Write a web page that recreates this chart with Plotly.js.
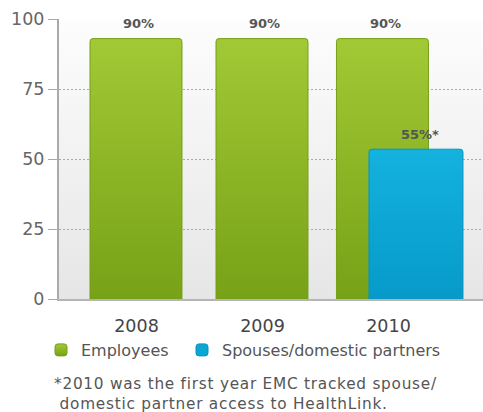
<!DOCTYPE html>
<html>
<head>
<meta charset="utf-8">
<script src="https://cdn.plot.ly/plotly-3.0.1.min.js"></script>
<style>
html,body{margin:0;padding:0;background:#fff;}
#chart{width:483px;height:412px;}
#chart .annotation[data-index="4"] text{letter-spacing:0.75px;}
</style>
</head>
<body>
<div id="chart"></div>
<script>
// ---- data ----
const years = ['2008', '2009', '2010'];
const employees = [93, 93, 93];
const employeeLabels = ['90%', '90%', '90%'];
const spouseYears = ['2010'];
const spouses = [53.5];
const spouseLabels = ['55%*'];
const yTicks = [0, 25, 50, 75, 100];
const footnote = '*2010 was the first year EMC tracked spouse/<br>&nbsp;domestic partner access to HealthLink.';

// ---- layout constants ----
const W = 483, H = 412;
const M = {l: 59, r: 0, t: 19, b: 113};
const xRange = [-0.615, 2.75];
const plotW = W - M.l - M.r;
const pxPerUnit = plotW / (xRange[1] - xRange[0]);
const plotH = H - M.t - M.b;

const empWidth = 0.73;
const empOffset = [-0.369, -0.369, -0.413];
const spWidth = 0.746;
const spOffset = -0.155;

const fontFam = '"DejaVu Sans", sans-serif';

const traces = [
  {
    type: 'bar', name: 'Employees', x: years, y: employees,
    width: empWidth, offset: empOffset,
    marker: {color: '#8cb826', line: {color: '#74a015', width: 1}},
    hoverinfo: 'skip', legend: 'legend'
  },
  {
    type: 'bar', name: 'Spouses/domestic partners', x: spouseYears, y: spouses,
    width: spWidth, offset: spOffset,
    marker: {color: '#0aa6d4', line: {color: '#0893bf', width: 1}},
    hoverinfo: 'skip', legend: 'legend2'
  }
];

const annotations = [];
years.forEach((yr, i) => {
  annotations.push({
    x: years.indexOf(yr), y: employees[i], xref: 'x', yref: 'y',
    text: '<b>' + employeeLabels[i] + '</b>', showarrow: false,
    yanchor: 'middle', yshift: 15,
    xshift: (empOffset[i] + empWidth / 2) * pxPerUnit + 3,
    font: {family: fontFam, size: 13, color: '#555'}
  });
});
spouseYears.forEach((yr, i) => {
  annotations.push({
    x: years.indexOf(yr), y: spouses[i], xref: 'x', yref: 'y',
    text: '<b>' + spouseLabels[i] + '</b>', showarrow: false,
    yanchor: 'middle', yshift: 15,
    xshift: (spOffset + spWidth / 2) * pxPerUnit + 4,
    font: {family: fontFam, size: 13, color: '#555'}
  });
});
annotations.push({
  xref: 'paper', yref: 'paper', x: (52 - M.l) / plotW, y: (M.t + plotH - 373) / plotH,
  xanchor: 'left', yanchor: 'top', align: 'left', showarrow: false,
  text: footnote, font: {family: fontFam, size: 15.3, color: '#555'}
});

const gradSvg = "<svg xmlns='http://www.w3.org/2000/svg' width='10' height='100' preserveAspectRatio='none'>" +
  "<defs><linearGradient id='g' x1='0' y1='0' x2='0' y2='1'>" +
  "<stop offset='0' stop-color='#fdfdfd'/><stop offset='1' stop-color='#e6e6e6'/>" +
  "</linearGradient></defs><rect width='10' height='100' fill='url(#g)'/></svg>";

const legendFont = {family: fontFam, size: 16, color: '#555'};
const legendY = (M.t + plotH - 350) / plotH;

const layout = {
  width: W, height: H, margin: M,
  paper_bgcolor: '#ffffff', plot_bgcolor: 'rgba(0,0,0,0)',
  barmode: 'overlay', barcornerradius: 3,
  showlegend: true,
  legend: {
    orientation: 'h', x: (41 - M.l) / plotW, xanchor: 'left', y: legendY, yanchor: 'middle',
    font: legendFont, itemwidth: 30, bgcolor: 'rgba(0,0,0,0)'
  },
  legend2: {
    orientation: 'h', x: (182 - M.l) / plotW, xanchor: 'left', y: legendY, yanchor: 'middle',
    font: legendFont, itemwidth: 30, bgcolor: 'rgba(0,0,0,0)'
  },
  xaxis: {
    type: 'category', range: xRange, fixedrange: true,
    showline: true, linecolor: '#b5b5b5', linewidth: 2,
    ticks: '', showgrid: false, ticklabelstandoff: 10,
    tickfont: {family: fontFam, size: 17.5, color: '#444'}
  },
  yaxis: {
    range: [0, 100], tickvals: yTicks, fixedrange: true,
    showline: true, linecolor: '#aaaaaa', linewidth: 2,
    ticks: 'outside', ticklen: 9, tickcolor: '#aaaaaa', tickwidth: 1,
    showgrid: true, gridcolor: '#aaaaaa', griddash: '2px,2px', gridwidth: 1,
    zeroline: false,
    tickfont: {family: fontFam, size: 17.5, color: '#666'}
  },
  images: [{
    source: 'data:image/svg+xml;charset=utf-8,' + encodeURIComponent(gradSvg),
    xref: 'paper', yref: 'paper', x: 0, y: 1, sizex: 1, sizey: 1,
    sizing: 'stretch', layer: 'below', xanchor: 'left', yanchor: 'top'
  }],
  annotations: annotations
};

// vertical gradients for the bar fills (applied as a style on the library-drawn bars)
const barGradients = [
  {id: 'gradEmp', top: '#a2c935', bottom: '#77a117'},
  {id: 'gradSp', top: '#14b2df', bottom: '#069ac9'}
];

Plotly.newPlot('chart', traces, layout, {displayModeBar: false, staticPlot: true}).then(gd => {
  const svgNS = 'http://www.w3.org/2000/svg';
  const svg = gd.querySelector('svg.main-svg');
  let defs = svg.querySelector('defs');
  if (!defs) { defs = document.createElementNS(svgNS, 'defs'); svg.insertBefore(defs, svg.firstChild); }
  barGradients.forEach(g => {
    const lg = document.createElementNS(svgNS, 'linearGradient');
    lg.setAttribute('id', g.id);
    lg.setAttribute('x1', '0'); lg.setAttribute('y1', '0');
    lg.setAttribute('x2', '0'); lg.setAttribute('y2', '1');
    [[0, g.top], [1, g.bottom]].forEach(([o, c]) => {
      const s = document.createElementNS(svgNS, 'stop');
      s.setAttribute('offset', String(o)); s.setAttribute('stop-color', c);
      lg.appendChild(s);
    });
    defs.appendChild(lg);
  });
  const barTraces = gd.querySelectorAll('.barlayer .trace.bars');
  barTraces.forEach((t, i) => {
    t.querySelectorAll('path').forEach(p => { p.style.fill = 'url(#' + barGradients[i].id + ')'; });
  });
  const legendTraces = gd.querySelectorAll('.legend .traces');
  legendTraces.forEach((t, i) => {
    t.querySelectorAll('.legendpoints path').forEach(p => { p.style.fill = 'url(#' + barGradients[Math.min(i, 1)].id + ')'; });
  });
});
</script>
</body>
</html>
